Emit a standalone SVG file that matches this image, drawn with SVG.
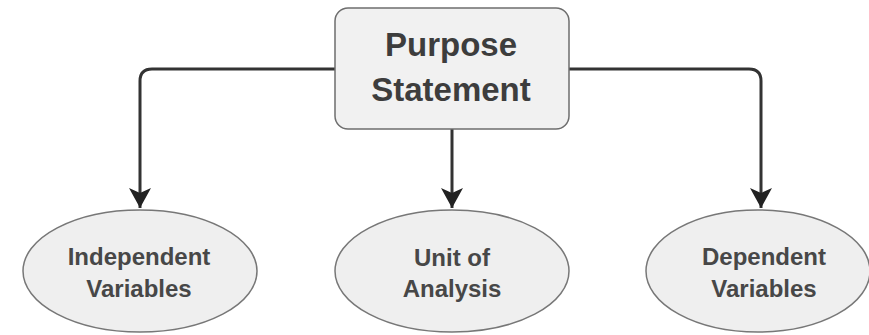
<svg xmlns="http://www.w3.org/2000/svg" width="869" height="335" viewBox="0 0 869 335">
  <style>
    .conn { fill: none; stroke: #333333; stroke-width: 3; }
    .box { fill: #f1f1f1; stroke: #6e6e6e; stroke-width: 1.5; }
    .ell { fill: #efefef; stroke: #777777; stroke-width: 1.5; }
    .title { font-family: "Liberation Sans", Arial, sans-serif; font-weight: bold; font-size: 33px; fill: #3d3d3d; text-anchor: middle; }
    .lbl { font-family: "Liberation Sans", Arial, sans-serif; font-weight: bold; font-size: 24px; fill: #474747; text-anchor: middle; }
  </style>
  <defs>
    <marker id="arrow" markerUnits="userSpaceOnUse" markerWidth="24" markerHeight="24" viewBox="0 0 24 24" refX="20" refY="12" orient="auto">
      <path d="M0,1 L20,12 L0,23 L5,12 Z" fill="#222222"/>
    </marker>
  </defs>
  <rect width="869" height="335" fill="#ffffff"/>
  <g id="connectors">
    <path class="conn" d="M335,69 H152 Q140,69 140,81 V208" marker-end="url(#arrow)"/>
    <path class="conn" d="M452,129 V208" marker-end="url(#arrow)"/>
    <path class="conn" d="M569,69 H749 Q761,69 761,81 V208" marker-end="url(#arrow)"/>
  </g>
  <g id="purpose">
    <rect class="box" x="335" y="8" width="234" height="121" rx="13"/>
    <text class="title" x="451" y="56">Purpose</text>
    <text class="title" x="451" y="101">Statement</text>
  </g>
  <g id="independent">
    <ellipse class="ell" cx="140" cy="271" rx="117" ry="61"/>
    <text class="lbl" x="139" y="265">Independent</text>
    <text class="lbl" x="139" y="297">Variables</text>
  </g>
  <g id="unit">
    <ellipse class="ell" cx="452" cy="271" rx="117" ry="61"/>
    <text class="lbl" x="452" y="266">Unit of</text>
    <text class="lbl" x="452" y="297">Analysis</text>
  </g>
  <g id="dependent">
    <ellipse class="ell" cx="758" cy="271" rx="112" ry="61"/>
    <text class="lbl" x="764" y="265">Dependent</text>
    <text class="lbl" x="764" y="297">Variables</text>
  </g>
</svg>
